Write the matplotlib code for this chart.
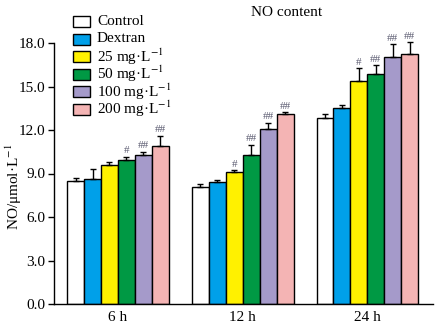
import numpy as np
import matplotlib
matplotlib.use('Agg')
import matplotlib.pyplot as plt
from matplotlib.patches import Rectangle

plt.rcParams['font.family'] = ['Liberation Serif', 'DejaVu Serif']
plt.rcParams['mathtext.fontset'] = 'stix'

# data
times = ['6 h', '12 h', '24 h']
groups = ['Control', 'Dextran', '25 mg·L$^{-1}$', '50 mg·L$^{-1}$',
          '100 mg·L$^{-1}$', '200 mg·L$^{-1}$']
colors = ['#FFFFFF', '#00A0E9', '#FFF100', '#009944', '#A59ACA', '#F4B4B4']

means = np.array([
    [8.48, 8.05, 12.8],    # Control
    [8.6, 8.4, 13.5],      # Dextran
    [9.6, 9.08, 15.4],     # 25
    [9.93, 10.3, 15.84],   # 50
    [10.3, 12.1, 17.05],   # 100
    [10.9, 13.1, 17.24],   # 200
])
errs = np.array([
    [0.2, 0.22, 0.27],
    [0.7, 0.15, 0.25],
    [0.2, 0.13, 0.85],
    [0.2, 0.65, 0.62],
    [0.2, 0.4, 0.85],
    [0.7, 0.12, 0.8],
])
marks = [
    ['', '', ''],
    ['', '', ''],
    ['', '#', '#'],
    ['#', '##', '##'],
    ['##', '##', '##'],
    ['##', '##', '##'],
]

W, H = 438, 332
fig = plt.figure(figsize=(W / 100, H / 100), dpi=100)
ax = fig.add_axes([54 / W, 28 / H, 379 / W, 261 / H])


def fx(px):
    return px / W


def fy(py):
    return 1 - py / H


x = np.arange(len(times))
w = 0.136
for i in range(len(groups)):
    pos = x + (i - 2.5) * w
    ax.bar(pos, means[i], w, color=colors[i], edgecolor='black', linewidth=1.0, zorder=2)
    ax.errorbar(pos, means[i], yerr=[np.zeros(3), errs[i]], fmt='none', ecolor='black',
                elinewidth=1.0, capsize=2.5, capthick=1.0, zorder=3, clip_on=False)
    for j in range(3):
        if marks[i][j]:
            ax.text(pos[j], means[i][j] + errs[i][j] + 0.12, marks[i][j], ha='center',
                    va='bottom', fontsize=8, color='#5a5a70')

ax.set_xlim(-0.513, 2.526)
ax.set_ylim(0, 18)
ticks = np.arange(0, 18.1, 3)
ax.set_yticks(ticks)
ax.set_yticklabels([f'{v:.1f}' for v in ticks], fontsize=11)
ax.set_xticks(x)
ax.set_xticklabels(times, fontsize=11)
ax.tick_params(axis='x', length=0, pad=5)
ax.tick_params(axis='y', direction='out', length=4.5, width=1, pad=1.5)
ax.spines['top'].set_visible(False)
ax.spines['right'].set_visible(False)
ax.spines['left'].set_linewidth(1.0)
ax.spines['bottom'].set_linewidth(1.0)

fig.text(fx(14), fy(187), 'NO/μmol·L$^{-1}$', rotation=90, ha='center',
         va='center', fontsize=11)
fig.text(fx(287), fy(13), 'NO content', ha='center', va='center', fontsize=11)

# legend drawn by hand to keep the tight row spacing
for k in range(len(groups)):
    cy = 21.5 + 17.5 * k
    fig.patches.append(Rectangle((fx(73), fy(cy + 5.5)), 17 / W, 11 / H,
                                 transform=fig.transFigure, facecolor=colors[k],
                                 edgecolor='black', linewidth=1.0))
    fig.text(fx(97), fy(cy), groups[k], ha='left', va='center', fontsize=11)

fig.savefig('out.png', dpi=100)
